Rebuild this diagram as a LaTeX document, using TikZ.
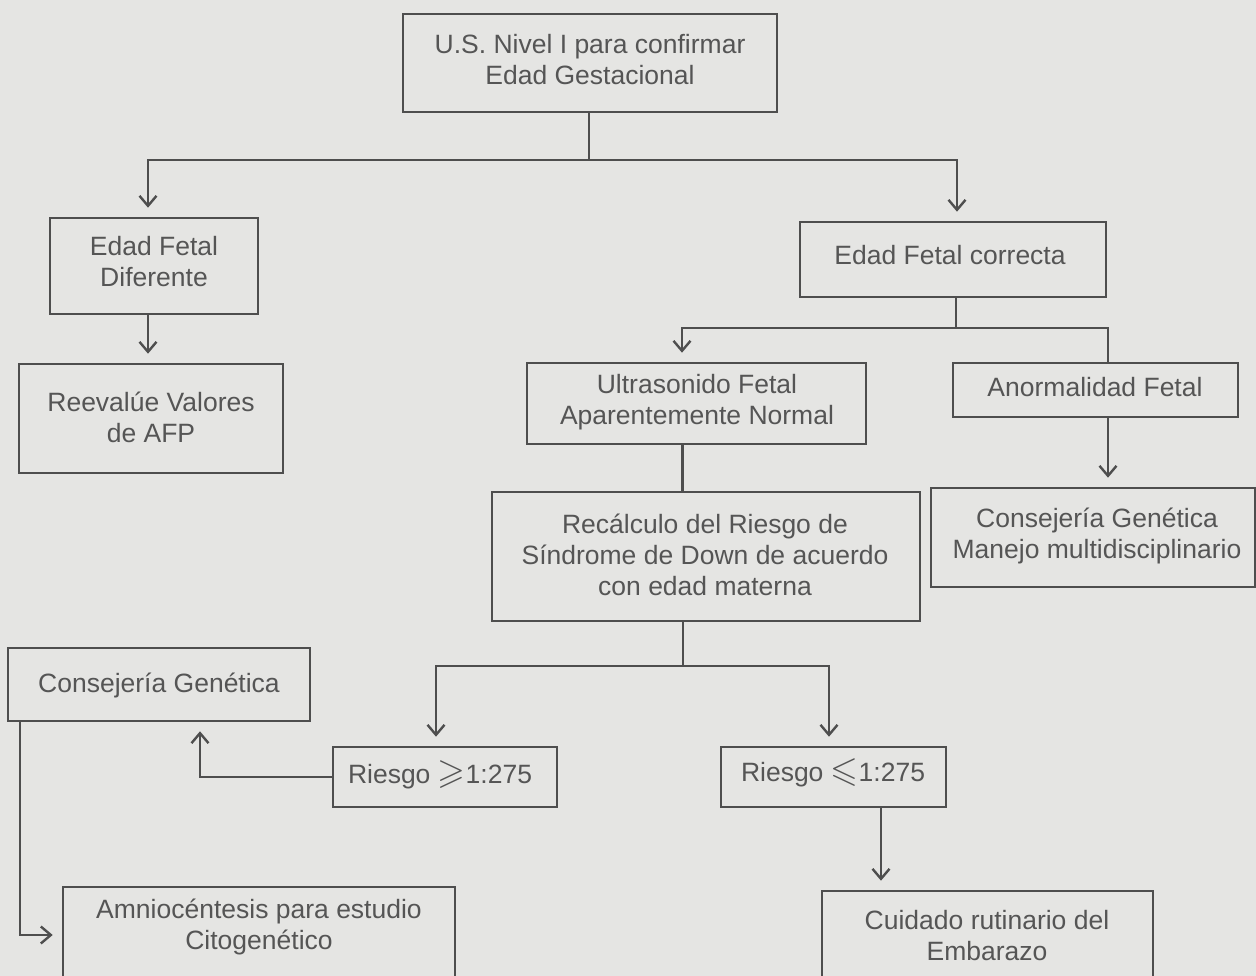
\documentclass[tikz,border=0pt]{standalone}
\usepackage{fontspec}
\usepackage{amssymb}
\setmainfont{Liberation Sans}
\usetikzlibrary{arrows.meta}
\definecolor{bgc}{RGB}{229,229,227}
\definecolor{inkc}{RGB}{78,78,78}
\definecolor{txtc}{RGB}{85,85,85}
\tikzset{
  box/.style={draw=inkc, line width=2.6pt, rectangle, inner sep=0pt},
  txt/.style={text=txtc, align=center, inner sep=0pt, font=\fontsize{26.5}{31}\selectfont},
  conn/.style={draw=inkc, line width=2.4pt},
  arr/.style={conn, -{Straight Barb[length=10pt,width=17pt,line width=2.4pt]}, shorten >=9pt}
}
\newcommand{\boxat}[5]{% name, left, top, right, bottom
  \node[box, minimum width={(#4-#2)*1pt}, minimum height={(#5-#3)*1pt}] (#1) at ({(#2+#4)/2},{(#3+#5)/2}) {};}
\newcommand{\bigrel}[1]{\raisebox{-0.5pt}{\scalebox{1.35}{$#1$}}}
\begin{document}
\begin{tikzpicture}[x=1pt,y=-1pt]
\fill[bgc] (0,0) rectangle (1256,976);
\useasboundingbox (0,0) rectangle (1256,976);
\clip (0,0) rectangle (1256,976);

% boxes
\boxat{top}{403}{14}{777}{112}
\boxat{efd}{50}{218}{258}{314}
\boxat{reev}{19}{364}{283}{473}
\boxat{efc}{800}{222}{1106}{297}
\boxat{ultra}{527}{363}{866}{444}
\boxat{anorm}{953}{363}{1238}{417}
\boxat{cmm}{931}{488}{1255}{587}
\boxat{recalc}{492}{492}{920}{621}
\boxat{cg}{8}{648}{310}{721}
\boxat{rge}{333}{747}{557}{807}
\boxat{rle}{721}{747}{946}{807}
\boxat{amnio}{63}{887}{455}{983}
\boxat{cuid}{822}{891}{1153}{992}

% texts
\node[txt] (top-t) at (590,60) {U.S. Nivel I para confirmar\\Edad Gestacional};
\node[txt] (efd-t) at (154,262) {Edad Fetal\\Diferente};
\node[txt] (reev-t) at (151,417) {Reevalúe Valores\\de AFP};
\node[txt] (efc-t) at (950,255) {Edad Fetal correcta};
\node[txt] (ultra-t) at (697,402) {Ultrasonido Fetal\\Aparentemente Normal};
\node[txt] (anorm-t) at (1095,387) {Anormalidad Fetal};
\node[txt] (cmm-t) at (1097,536) {Consejería Genética\\Manejo multidisciplinario};
\node[txt] (recalc-t) at (705,555) {Recálculo del Riesgo de\\Síndrome de Down de acuerdo\\con edad materna};
\node[txt] (cg-t) at (159,685) {Consejería Genética};
\node[txt] (rge-t) at (440,775) {Riesgo \bigrel{\geqslant}1:275};
\node[txt] (rle-t) at (833,773) {Riesgo \bigrel{\leqslant}1:275};
\node[txt] (amnio-t) at (259,927) {Amniocéntesis para estudio\\Citogenético};
\node[txt] (cuid-t) at (987,936) {Cuidado rutinario del\\Embarazo};

% connectors
\coordinate (j1) at (589,160);
\draw[conn] (top.south -| j1) -- (j1);
\draw[arr] (j1) -| ([xshift=-6pt]efd.north);
\draw[arr] (j1) -| ([xshift=4pt]efc.north);
\draw[arr] ([xshift=-6pt]efd.south) -- ([xshift=-6pt]efd.south |- reev.north);

\coordinate (j2) at (956,328);
\draw[conn] (efc.south -| j2) -- (j2);
\draw[arr] (j2) -| ([xshift=-14.5pt]ultra.north);
\draw[conn] (j2) -| ([xshift=12.5pt]anorm.north);
\draw[arr] ([xshift=12.5pt]anorm.south) -- ([xshift=12.5pt]anorm.south |- cmm.north);
\draw[conn] ([xshift=-14pt]ultra.south) -- ([xshift=-14pt]ultra.south |- recalc.north);

\coordinate (j3) at (683,666);
\draw[conn] (recalc.south -| j3) -- (j3);
\draw[arr] (j3) -| ([xshift=-9pt]rge.north);
\draw[arr] (j3) -| ([xshift=-4.5pt]rle.north);
\draw[arr] ([xshift=47.5pt]rle.south) -- ([xshift=47.5pt]rle.south |- cuid.north);

\draw[arr] (rge.west) -| ([xshift=41pt]cg.south);
\draw[arr] ([xshift=-139pt]cg.south) |- (amnio.west);
\end{tikzpicture}
\end{document}
